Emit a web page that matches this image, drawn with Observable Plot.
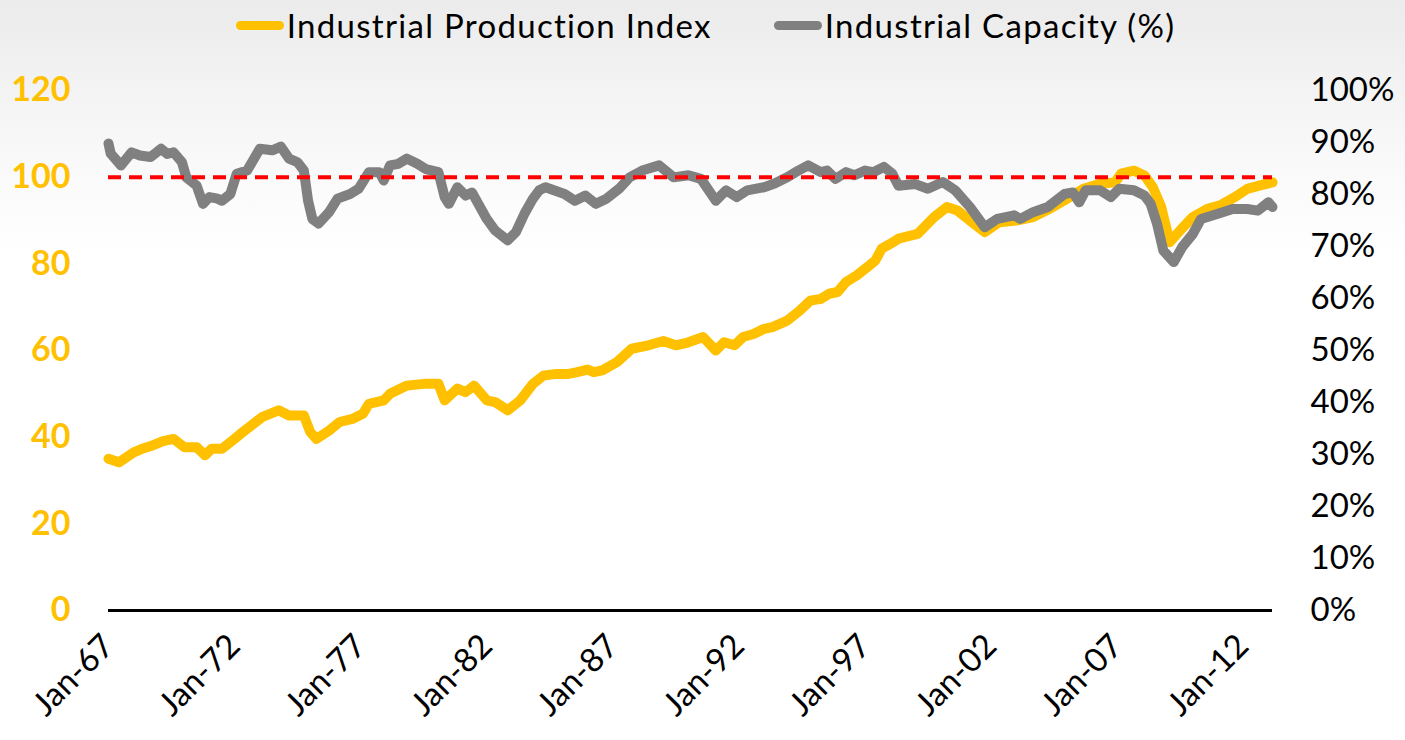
<!DOCTYPE html>
<html><head><meta charset="utf-8">
<script src="https://cdn.jsdelivr.net/npm/d3@7"></script>
<script src="https://cdn.jsdelivr.net/npm/@observablehq/plot@0.6"></script>
<style>
html,body{margin:0;padding:0;}
body{width:1405px;height:740px;overflow:hidden;background:linear-gradient(to bottom,#ebebeb 0px,#f6f6f6 120px,#fdfdfd 220px,#ffffff 260px);font-family:Lato,"Open Sans",sans-serif;}
#legend{height:50px;display:flex;justify-content:center;align-items:center;gap:62px;font-size:33px;letter-spacing:1.3px;color:#000;padding-left:6px;}
.item{display:flex;align-items:center;}
.sw{width:48px;height:9px;border-radius:5px;margin-right:3px;}
#chart svg{display:block;}
</style></head><body>
<div id="legend"></div>
<div id="chart"></div>
<script>
const seriesNames = ["Industrial Production Index", "Industrial Capacity (%)"];
const seriesColors = ["#FFC000", "#808080"];

const ipiDates = ["1967-01","1967-06","1968-01","1968-05","1968-10","1969-03","1969-08","1970-01","1970-07","1970-11","1971-02","1971-07","1972-01","1972-05","1973-02","1973-10","1974-03","1974-10","1975-01","1975-04","1975-10","1976-03","1976-09","1977-02","1977-05","1977-12","1978-03","1978-11","1979-07","1980-02","1980-05","1980-11","1981-03","1981-07","1982-01","1982-05","1982-11","1983-05","1983-11","1984-04","1984-10","1985-04","1985-08","1986-01","1986-04","1986-08","1987-03","1987-10","1988-06","1989-01","1989-07","1990-01","1990-08","1991-02","1991-06","1991-11","1992-03","1992-08","1993-01","1993-05","1993-12","1994-06","1994-11","1995-04","1995-08","1995-12","1996-04","1996-09","1997-02","1997-06","1997-09","1998-01","1998-05","1999-02","1999-10","2000-04","2000-09","2001-03","2001-10","2002-05","2003-01","2003-09","2004-05","2005-01","2005-09","2006-05","2006-12","2007-03","2007-09","2008-02","2008-06","2008-10","2009-02","2009-07","2010-01","2010-08","2011-02","2011-09","2012-03","2012-09","2013-03"];
const ipiValues = [35.0,34.2,36.5,37.3,38.1,39.1,39.6,37.7,37.7,35.8,37.3,37.3,39.6,41.2,44.6,46.2,45.0,45.0,41.2,39.6,41.5,43.5,44.2,45.4,47.7,48.5,50.0,51.9,52.3,52.3,48.5,51.2,50.4,51.9,48.5,48.1,46.2,48.5,52.3,54.2,54.6,54.6,55.0,55.6,55.0,55.4,57.3,60.4,61.2,62.2,61.2,61.9,63.1,60.0,61.9,61.2,63.1,63.8,65.0,65.4,66.9,69.2,71.5,71.9,73.1,73.5,75.8,77.3,79.2,80.8,83.5,84.6,85.8,86.9,90.8,93.1,92.3,90.0,87.3,89.6,90.0,90.8,92.7,95.0,97.3,98.5,98.8,100.8,101.5,100.4,97.7,93.1,85.0,87.7,90.8,92.7,93.5,95.4,97.3,98.1,98.8];

const capDates = ["1967-01","1967-02","1967-07","1967-12","1968-04","1968-09","1969-02","1969-05","1969-08","1969-12","1970-02","1970-07","1970-10","1971-01","1971-05","1971-07","1971-11","1972-02","1972-07","1973-01","1973-07","1973-11","1974-03","1974-07","1974-10","1974-12","1975-02","1975-05","1975-10","1976-02","1976-08","1976-12","1977-05","1977-10","1977-12","1978-03","1978-07","1978-11","1979-04","1979-08","1980-02","1980-05","1980-07","1980-11","1981-03","1981-06","1981-09","1982-01","1982-05","1982-11","1983-03","1983-07","1983-11","1984-02","1984-05","1985-02","1985-07","1985-12","1986-05","1986-10","1987-04","1987-09","1988-03","1988-11","1989-06","1990-01","1990-07","1991-02","1991-07","1991-12","1992-05","1993-01","1993-06","1993-12","1994-04","1994-10","1995-04","1995-07","1995-11","1996-04","1996-08","1997-01","1997-05","1997-10","1998-02","1998-05","1999-01","1999-07","2000-02","2000-08","2001-03","2001-10","2002-04","2002-12","2003-03","2003-09","2004-04","2004-12","2005-04","2005-07","2005-10","2006-05","2006-10","2007-02","2007-09","2008-02","2008-05","2008-08","2008-11","2009-04","2009-08","2010-01","2010-05","2011-01","2011-08","2012-03","2012-08","2013-01","2013-03"];
const capValues = [89.8,87.9,85.6,88.1,87.5,87.2,88.8,87.8,88.1,86.2,83.3,81.7,78.2,79.5,79.2,78.8,80.1,84.0,84.6,88.8,88.5,89.2,86.9,86.2,84.6,78.8,75.3,74.4,76.6,79.2,80.1,81.1,84.3,84.3,82.7,85.6,85.9,86.9,85.9,84.9,84.3,79.5,78.2,81.4,79.8,80.4,78.2,75.3,73.1,71.2,72.8,76.3,79.2,80.8,81.4,80.1,78.8,79.8,78.2,79.2,81.1,83.3,84.6,85.6,83.3,83.7,83.0,78.8,80.8,79.5,80.8,81.4,82.1,83.3,84.3,85.6,84.3,84.6,83.0,84.3,83.7,84.6,84.3,85.3,84.0,81.7,82.0,81.1,82.4,80.8,77.6,73.7,75.3,76.0,75.3,76.6,77.6,80.1,80.4,78.5,80.8,80.8,79.5,81.1,80.8,79.8,78.2,74.4,69.2,67.0,69.9,72.4,75.3,76.3,77.2,77.2,76.9,78.5,77.6];

const leftTicks = [0, 20, 40, 60, 80, 100, 120];
const rightTickLabels = ["0%","10%","20%","30%","40%","50%","60%","70%","80%","90%","100%"];
const xTickDates = ["1967-01","1972-01","1977-01","1982-01","1987-01","1992-01","1997-01","2002-01","2007-01","2012-01"];
const xTickLabels = ["Jan-67","Jan-72","Jan-77","Jan-82","Jan-87","Jan-92","Jan-97","Jan-02","Jan-07","Jan-12"];
const referenceLevel = 100;
const xDomain = ["1967-01","2013-03"];

// legend
const legend = document.getElementById("legend");
seriesNames.forEach((name, i) => {
  const item = document.createElement("div");
  item.className = "item";
  const sw = document.createElement("span");
  sw.className = "sw";
  sw.style.background = seriesColors[i];
  const t = document.createElement("span");
  t.textContent = name;
  item.appendChild(sw); item.appendChild(t);
  legend.appendChild(item);
});

const parse = d3.utcParse("%Y-%m");
const ipi = ipiDates.map((d, i) => ({date: parse(d), value: ipiValues[i]}));
const yMax = leftTicks[leftTicks.length - 1];
// capacity share (0-100%) is mapped onto the left scale (0-120)
const cap = capDates.map((d, i) => ({date: parse(d), value: capValues[i] / 100 * yMax}));
const rightTicks = rightTickLabels.map((_, i) => i / (rightTickLabels.length - 1) * yMax);

const chart = Plot.plot({
  width: 1405,
  height: 690,
  marginLeft: 108,
  marginRight: 133,
  marginTop: 40,
  marginBottom: 130,
  style: {background: "transparent", fontFamily: "Lato, 'Open Sans', sans-serif"},
  x: {type: "utc", domain: xDomain.map(parse)},
  y: {domain: [0, yMax]},
  marks: [
    Plot.axisY(leftTicks, {anchor: "left", tickSize: 0, tickPadding: 38, label: null, color: "#FFC000", fontWeight: "bold", fontSize: 34}),
    Plot.axisY(rightTicks, {anchor: "right", tickSize: 0, tickPadding: 38, label: null, color: "#000", fontSize: 33, tickFormat: (d, i) => rightTickLabels[i]}),
    Plot.axisX(xTickDates.map(parse), {tickSize: 0, tickPadding: 30, tickRotate: -45, label: null, color: "#000", fontSize: 33, tickFormat: (d, i) => xTickLabels[i]}),
    Plot.line(ipi, {x: "date", y: "value", stroke: seriesColors[0], strokeWidth: 10, strokeLinejoin: "round", strokeLinecap: "round"}),
    Plot.line(cap, {x: "date", y: "value", stroke: seriesColors[1], strokeWidth: 10, strokeLinejoin: "round", strokeLinecap: "round"}),
    Plot.ruleY([0], {stroke: "#000", strokeWidth: 3}),
    Plot.ruleY([referenceLevel], {stroke: "#FF0000", strokeWidth: 4, strokeDasharray: "13,8"})
  ]
});
document.getElementById("chart").appendChild(chart);
</script>
</body></html>
